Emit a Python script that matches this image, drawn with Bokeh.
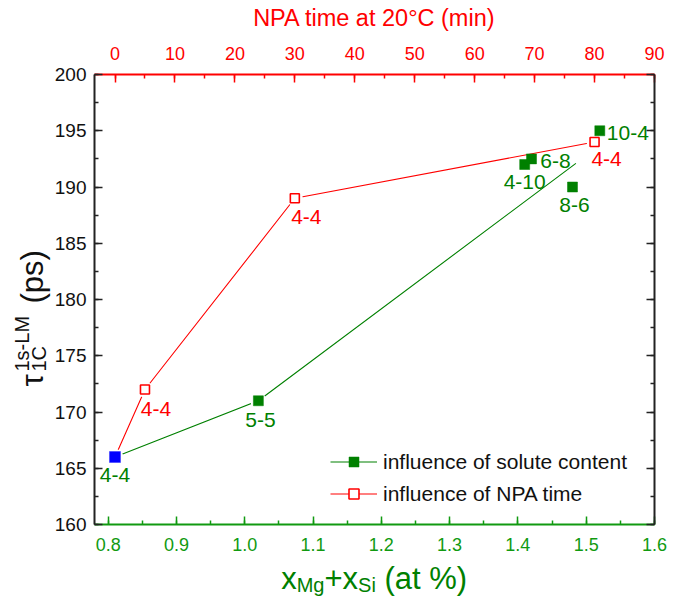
from math import pi
from bokeh.plotting import figure
from bokeh.layouts import row, column
from bokeh.models import (Range1d, LinearAxis, SingleIntervalTicker, NumeralTickFormatter,
                          CustomJSTickFormatter, ColumnDataSource, Label, Legend, LegendItem)
from bokeh.core.properties import value
from bokeh.embed import file_html
from bokeh.resources import INLINE

# ---------------- data ----------------
solute_x = [0.81, 1.02, 1.41, 1.42, 1.48, 1.52]
solute_y = [166, 171, 192, 192.5, 190, 195]
solute_labels = ["4-4", "5-5", "4-10", "6-8", "8-6", "10-4"]
solute_trend_x = [0.81, 1.02, 1.485]
solute_trend_y = [166, 171, 192.1]

npa_time = [0, 5, 30, 80]
npa_y = [166, 172, 189, 194]
npa_labels = ["4-4", "4-4", "4-4", "4-4"]

# label offsets in screen px (style, not data)
solute_dx = [0, 2, 0, 24, 2, 28]
solute_dy = [18, 19, 17, 2, 18, 2]
npa_dx = [11, 11.5, 12]
npa_dy = [19, 18.6, 16.7]

GREEN = "#008000"
AXGREEN = "#119a11"
RED = "#ff0000"
BLUE = "#0000ff"
INK = "#111111"
FONT = "Liberation Sans"

LEFT_W = 51          # strip holding the rotated y title
MAIN_LEFT = 42
FRAME_W, FRAME_H = 560, 450
MAIN_RIGHT = 20
MAIN_TOP, MAIN_BOTTOM = 74, 37
MAIN_H = MAIN_TOP + FRAME_H + MAIN_BOTTOM
MAIN_W = MAIN_LEFT + FRAME_W + MAIN_RIGHT
BOTTOM_H = 35

p = figure(frame_width=FRAME_W, frame_height=FRAME_H,
           min_border_left=MAIN_LEFT, min_border_right=MAIN_RIGHT,
           min_border_top=MAIN_TOP, min_border_bottom=MAIN_BOTTOM,
           x_range=Range1d(0.78, 1.6001), y_range=Range1d(160, 200),
           output_backend="svg", toolbar_location=None)
p.extra_x_ranges = {"time": Range1d(-3.42, 90)}
p.xgrid.visible = False
p.ygrid.visible = False
p.outline_line_color = None


def style_axis(ax, color, size):
    ax.axis_line_color = color
    ax.axis_line_width = 2
    ax.major_tick_line_color = color
    ax.minor_tick_line_color = color
    ax.major_tick_line_width = 1.5
    ax.minor_tick_line_width = 1.5
    ax.major_tick_in = 8
    ax.major_tick_out = 0
    ax.minor_tick_in = 4
    ax.minor_tick_out = 0
    ax.major_label_text_color = color
    ax.major_label_text_font = FONT
    ax.major_label_text_font_size = size
    ax.axis_label_standoff = 0


xb = p.xaxis[0]
xb.ticker = SingleIntervalTicker(interval=0.1, num_minor_ticks=2)
xb.formatter = NumeralTickFormatter(format="0.0")
style_axis(xb, AXGREEN, "18px")
xb.major_label_standoff = 13

yl = p.yaxis[0]
yl.ticker = SingleIntervalTicker(interval=5, num_minor_ticks=2)
style_axis(yl, "#222222", "19px")
yl.major_label_text_color = INK
yl.major_label_standoff = 8

xt = LinearAxis(x_range_name="time", ticker=SingleIntervalTicker(interval=10, num_minor_ticks=2),
                axis_label="NPA time at 20°C (min)")
style_axis(xt, RED, "18px")
xt.major_label_standoff = 15
xt.axis_label_text_color = RED
xt.axis_label_text_font = FONT
xt.axis_label_text_font_size = "23.5px"
xt.axis_label_text_font_style = "normal"
xt.axis_label_standoff = 13
p.add_layout(xt, "above")

yr = LinearAxis(ticker=SingleIntervalTicker(interval=5, num_minor_ticks=2),
                formatter=CustomJSTickFormatter(code="return ''"))
style_axis(yr, "#222222", "10px")
yr.major_label_standoff = 0
p.add_layout(yr, "right")

# ---------------- lines and markers ----------------
g_line = p.line(solute_trend_x, solute_trend_y, line_color=GREEN, line_width=1.1)
p.scatter(solute_trend_x[:2], solute_trend_y[:2], marker="circle", size=16,
          fill_color="white", line_color=None)
r_line = p.line(npa_time, npa_y, x_range_name="time", line_color=RED, line_width=1.1)
p.scatter(npa_time, npa_y, x_range_name="time", marker="circle", size=16,
          fill_color="white", line_color=None)

g_pts = p.scatter(solute_x[1:], solute_y[1:], marker="square", size=10,
                  fill_color=GREEN, line_color=GREEN, line_width=0.5)
r_pts = p.scatter(npa_time[1:], npa_y[1:], x_range_name="time", marker="square", size=9,
                  fill_color="white", line_color=RED, line_width=1.6)
p.scatter(solute_x[:1], solute_y[:1], marker="square", size=11,
          fill_color=BLUE, line_color="#3030ff", line_width=0.5)

# ---------------- point labels ----------------
sol_src = ColumnDataSource(dict(x=solute_x, y=solute_y, text=solute_labels,
                                dx=solute_dx, dy=solute_dy))
p.text(x="x", y="y", text="text", x_offset="dx", y_offset="dy", source=sol_src,
       text_color=GREEN, text_font=value(FONT), text_font_size="21px",
       text_align="center", text_baseline="alphabetic")
npa_src = ColumnDataSource(dict(x=npa_time[1:], y=npa_y[1:], text=npa_labels[1:],
                                dx=npa_dx, dy=npa_dy))
p.text(x="x", y="y", text="text", x_offset="dx", y_offset="dy", source=npa_src,
       x_range_name="time", text_color=RED, text_font=value(FONT), text_font_size="21px",
       text_align="center", text_baseline="alphabetic")

# ---------------- legend ----------------
legend = Legend(items=[
    LegendItem(label="influence of solute content", renderers=[g_line, g_pts]),
    LegendItem(label="influence of NPA time", renderers=[r_line, r_pts]),
], location=(236, 18))
legend.border_line_color = None
legend.background_fill_alpha = 0
legend.label_text_font = FONT
legend.label_text_font_size = "21px"
legend.label_text_color = INK
legend.glyph_width = 47
legend.glyph_height = 25
legend.label_height = 25
legend.spacing = 7
legend.padding = 0
legend.margin = 0
legend.label_standoff = 6
p.add_layout(legend, "center")


# ---------------- title strips (rich text with sub/superscripts) ----------------
def strip(w, h, left=0, right=0, top=0, bottom=0):
    f = figure(width=w, height=h, min_border_left=left, min_border_right=right,
               min_border_top=top, min_border_bottom=bottom,
               x_axis_location=None, y_axis_location=None,
               output_backend="svg", toolbar_location=None)
    f.grid.visible = False
    f.outline_line_color = None
    return f


def lab(f, x, y, text, size, color, angle=0.0):
    f.add_layout(Label(x=x, y=y, x_units="screen", y_units="screen", text=text,
                       angle=angle, text_font=FONT, text_font_size=size,
                       text_color=color, text_align="left", text_baseline="alphabetic"))


# left strip: frame matches the main frame vertically; y measured up from frame bottom
left = strip(LEFT_W, MAIN_H, top=MAIN_TOP, bottom=MAIN_BOTTOM)
lab(left, 32, 138, "τ", "31px", INK, pi / 2)
lab(left, 38, 153, "1C", "20px", INK, pi / 2)
lab(left, 21, 153, "1s-LM", "20px", INK, pi / 2)
lab(left, 32, 221, "(ps)", "31px", INK, pi / 2)

# bottom strip: frame matches the main frame horizontally; x measured from frame left
bottom = strip(MAIN_W, BOTTOM_H, left=MAIN_LEFT, right=MAIN_RIGHT)
lab(bottom, 186.7, 18, "x", "31px", GREEN)
lab(bottom, 202.2, 12, "Mg", "20px", GREEN)
lab(bottom, 230.0, 18, "+x", "31px", GREEN)
lab(bottom, 263.6, 12, "Si", "20px", GREEN)
lab(bottom, 290.0, 18, "(at %)", "31px", GREEN)

layout = row(left, column(p, bottom, spacing=0), spacing=0)

open("out.html", "w").write(file_html(layout, INLINE))
